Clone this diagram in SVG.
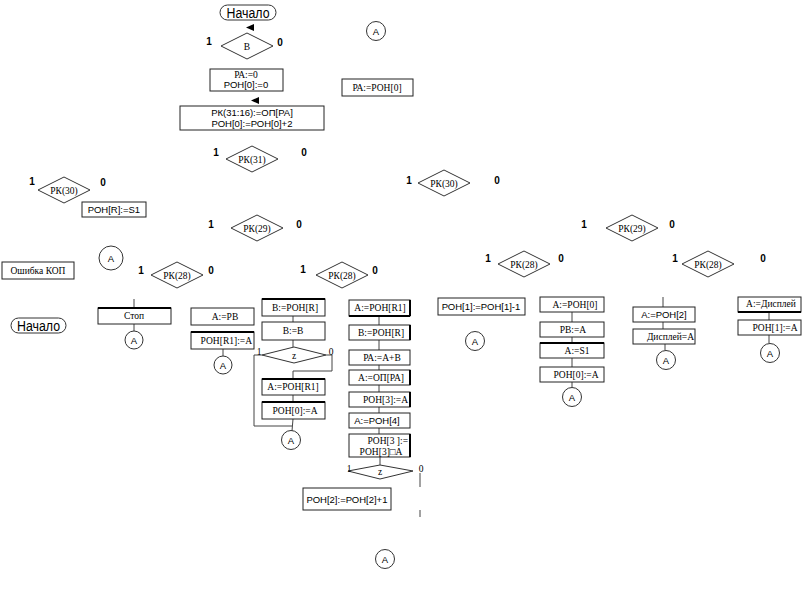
<svg xmlns="http://www.w3.org/2000/svg" width="805" height="600" viewBox="0 0 805 600">
<style>
.b{fill:#fff;stroke:#222;stroke-width:1}
.d{fill:#fff;stroke:#333;stroke-width:1}
.c{fill:#fff;stroke:#333;stroke-width:1}
.ln{fill:none;stroke:#444;stroke-width:1}
.s{font-family:"Liberation Serif",serif;font-size:9.5px;fill:#000;text-anchor:middle}
.e{text-anchor:end}
.a{font-family:"Liberation Sans",sans-serif;font-size:9.5px;fill:#000;text-anchor:middle}
.n{font-family:"Liberation Sans",sans-serif;font-size:10px;font-weight:bold;fill:#000;text-anchor:middle}
.t{font-family:"Liberation Sans",sans-serif;font-size:14px;fill:#000;text-anchor:middle}
.tri{fill:#000}
.k{stroke:#000;stroke-width:2}
</style>
<rect width="805" height="600" fill="#fff"/>
<g id="connectors">
<line class="ln" x1="134" y1="299" x2="134" y2="308"/>
<line class="ln" x1="134" y1="324" x2="134" y2="331"/>
<line class="ln" x1="223" y1="349" x2="223" y2="356"/>
<line class="ln" x1="293" y1="316" x2="293" y2="322"/>
<line class="ln" x1="293" y1="340" x2="293" y2="347"/>
<polyline class="ln" points="262,355 254,355 254,426 292,426"/>
<polyline class="ln" points="326,355 332,355 332,371 293,371 293,378"/>
<line class="ln" x1="293" y1="395" x2="293" y2="402"/>
<line class="ln" x1="293" y1="419" x2="292" y2="431"/>
<line class="ln" x1="379" y1="316" x2="379" y2="325"/>
<line class="ln" x1="379" y1="340" x2="379" y2="350"/>
<line class="ln" x1="379" y1="365" x2="379" y2="370"/>
<line class="ln" x1="379" y1="385" x2="379" y2="392"/>
<line class="ln" x1="379" y1="407" x2="379" y2="413"/>
<line class="ln" x1="379" y1="428" x2="379" y2="434"/>
<line class="ln" x1="380" y1="457" x2="380" y2="465"/>
<line class="ln" x1="420" y1="473" x2="420" y2="487"/>
<line class="ln" x1="420" y1="510" x2="420" y2="517"/>
<line class="ln" x1="572" y1="312" x2="572" y2="322"/>
<line class="ln" x1="572" y1="337" x2="572" y2="343"/>
<line class="ln" x1="572" y1="358" x2="572" y2="367"/>
<line class="ln" x1="572" y1="382" x2="572" y2="387"/>
<line class="ln" x1="663" y1="297" x2="663" y2="307"/>
<line class="ln" x1="663" y1="322" x2="663" y2="329"/>
<line class="ln" x1="665" y1="344" x2="665" y2="350"/>
<line class="ln" x1="769" y1="312" x2="769" y2="320"/>
<line class="ln" x1="769" y1="335" x2="769" y2="343"/>
<polygon class="tri" points="246,27.5 254,24 254,31"/>
<polygon class="tri" points="251,100.5 259,97 259,104"/>
</g>
<g id="start1"><rect class="c" x="220" y="5" width="56" height="15" rx="7.5"/><text class="t" x="248" y="17.5" textLength="43" lengthAdjust="spacingAndGlyphs">Начало</text></g>
<g id="condB"><polygon class="d" points="221,46 247,33 273,46 247,59"/><text class="s" x="247" y="49.5">В</text><text class="n" x="209" y="45">1</text><text class="n" x="280" y="46">0</text></g>
<g id="init"><rect class="b" x="210" y="69" width="73" height="22"/><text class="s" x="246" y="78">РА:=0</text><text class="a" x="246" y="88">РОН[0]:=0</text></g>
<g id="paron0"><rect class="b" x="342" y="79" width="71" height="17"/><text class="s" x="377" y="91">РА:=РОН[0]</text></g>
<g id="fetch"><rect class="b" x="180" y="106" width="144" height="24"/><text class="a" x="252" y="116">РК(31:16):=ОП[РА]</text><text class="a" x="252" y="127">РОН[0]:=РОН[0]+2</text></g>
<g id="connA0"><circle class="c" cx="376" cy="31" r="9.5"/><text class="a" x="376" y="34.5">А</text></g>
<g id="rk31"><polygon class="d" points="226,159 252,146 278,159 252,172"/><text class="s" x="252" y="162.5">РК(31)</text><text class="n" x="216" y="156">1</text><text class="n" x="304" y="156">0</text></g>
<g id="rk30a"><polygon class="d" points="38,190 64,177 90,190 64,203"/><text class="s" x="64" y="193.5">РК(30)</text><text class="n" x="32" y="185">1</text><text class="n" x="103" y="186">0</text></g>
<g id="ronrs1"><rect class="b" x="82" y="202" width="64" height="15"/><text class="a" x="114" y="213">РОН[R]:=S1</text></g>
<g id="rk29a"><polygon class="d" points="231,228 257,215 283,228 257,241"/><text class="s" x="257" y="231.5">РК(29)</text><text class="n" x="211" y="228">1</text><text class="n" x="299" y="228">0</text></g>
<g id="connA1"><circle class="c" cx="111" cy="258" r="12"/><text class="a" x="111" y="261.5">А</text></g>
<g id="error"><rect class="b" x="2" y="262" width="72" height="17"/><text class="s" x="38" y="274">Ошибка КОП</text></g>
<g id="rk28a"><polygon class="d" points="151,275 177,262 203,275 177,288"/><text class="s" x="177" y="278.5">РК(28)</text><text class="n" x="141" y="274">1</text><text class="n" x="211" y="274">0</text></g>
<g id="rk28b"><polygon class="d" points="316,275 342,262 368,275 342,288"/><text class="s" x="342" y="278.5">РК(28)</text><text class="n" x="303" y="273">1</text><text class="n" x="375" y="274">0</text></g>
<g id="rk30b"><polygon class="d" points="418,183 444,170 470,183 444,196"/><text class="s" x="444" y="186.5">РК(30)</text><text class="n" x="409" y="184">1</text><text class="n" x="497" y="184">0</text></g>
<g id="rk29b"><polygon class="d" points="606,228 632,215 658,228 632,241"/><text class="s" x="632" y="231.5">РК(29)</text><text class="n" x="584" y="228">1</text><text class="n" x="672" y="228">0</text></g>
<g id="rk28c"><polygon class="d" points="498,264 524,251 550,264 524,277"/><text class="s" x="524" y="267.5">РК(28)</text><text class="n" x="488" y="262">1</text><text class="n" x="561" y="262">0</text></g>
<g id="rk28d"><polygon class="d" points="682,264 708,251 734,264 708,277"/><text class="s" x="708" y="267.5">РК(28)</text><text class="n" x="675" y="262">1</text><text class="n" x="763" y="262">0</text></g>
<g id="start2"><rect class="c" x="11" y="318" width="55" height="15" rx="7.5"/><text class="t" x="38.5" y="330.5" textLength="43" lengthAdjust="spacingAndGlyphs">Начало</text></g>
<g id="stop"><rect class="b" x="98" y="308" width="73" height="16"/><line class="k" x1="98" y1="308" x2="171" y2="308"/><text class="s" x="134" y="319">Стоп</text></g>
<g id="connA2"><circle class="c" cx="134" cy="340" r="9"/><text class="a" x="134" y="343.5">А</text></g>
<g id="apb"><rect class="b" x="191" y="308" width="63" height="17"/><text class="s" x="225" y="319.5">А:=РВ</text></g>
<g id="ronr1a"><rect class="b" x="191" y="332" width="63" height="17"/><line class="k" x1="191" y1="332" x2="254" y2="332"/><text class="s e" x="252" y="343.5">РОН[R1]:=А</text></g>
<g id="connA3"><circle class="c" cx="223" cy="365" r="9"/><text class="a" x="223" y="368.5">А</text></g>
<g id="bronr"><rect class="b" x="262" y="299" width="63" height="17"/><line class="k" x1="262" y1="299" x2="325" y2="299"/><text class="s" x="295" y="310.5">В:=РОН[R]</text></g>
<g id="bb"><rect class="b" x="262" y="322" width="63" height="18"/><text class="s" x="293" y="334">В:=В</text></g>
<g id="z1"><polygon class="d" points="262,355 294,347 326,355 294,363"/><text class="s" x="294" y="359">z</text><text class="s" x="259" y="355">1</text><text class="s" x="331" y="355">0</text></g>
<g id="aronr1"><rect class="b" x="262" y="379" width="63" height="16"/><line class="k" x1="262" y1="379" x2="325" y2="379"/><text class="s" x="293" y="390">А:=РОН[R1]</text></g>
<g id="ron0a"><rect class="b" x="262" y="402" width="63" height="17"/><line class="k" x1="262" y1="402" x2="325" y2="402"/><text class="s" x="295" y="413.5">РОН[0]:=А</text></g>
<g id="connA4"><circle class="c" cx="291" cy="440" r="9.5"/><text class="a" x="291" y="443.5">А</text></g>
<g id="c4a"><rect class="b" x="349" y="300" width="61" height="16"/><line class="k" x1="349" y1="316" x2="410" y2="316"/><line class="k" x1="410" y1="300" x2="410" y2="316"/><text class="s" x="380" y="311">А:=РОН[R1]</text></g>
<g id="c4b"><rect class="b" x="349" y="325" width="61" height="15"/><line class="k" x1="410" y1="325" x2="410" y2="340"/><text class="s" x="381" y="335.5">В:=РОН[R]</text></g>
<g id="c4c"><rect class="b" x="349" y="350" width="61" height="15"/><text class="s" x="382" y="360.5">РА:=А+В</text></g>
<g id="c4d"><rect class="b" x="349" y="370" width="61" height="15"/><line class="k" x1="410" y1="370" x2="410" y2="385"/><text class="s" x="381" y="380.5">А:=ОП[РА]</text></g>
<g id="c4e"><rect class="b" x="349" y="392" width="61" height="15"/><line class="k" x1="410" y1="392" x2="410" y2="407"/><text class="s e" x="408" y="402.5">РОН[3]:=А</text></g>
<g id="c4f"><rect class="b" x="349" y="413" width="61" height="15"/><text class="a" x="377" y="424">А:=РОН[4]</text></g>
<g id="c4g"><rect class="b" x="349" y="434" width="61" height="23"/><line class="k" x1="410" y1="434" x2="410" y2="457"/><text class="s e" x="408" y="444">РОН[3 ]:=</text><text class="s" x="381" y="454.5">РОН[3]□А</text></g>
<g id="z2"><polygon class="d" points="348,471 380,465 413,471 380,479"/><text class="s" x="380" y="475">z</text><text class="s" x="349" y="472">1</text><text class="s" x="421" y="472">0</text></g>
<g id="ron2inc"><rect class="b" x="303" y="488" width="88" height="22"/><text class="a" x="347" y="502.5">РОН[2]:=РОН[2]+1</text></g>
<g id="connA5"><circle class="c" cx="385" cy="559" r="9.5"/><text class="a" x="385" y="562.5">А</text></g>
<g id="ron1dec"><rect class="b" x="438" y="298" width="87" height="17"/><text class="a" x="481" y="309.5">РОН[1]:=РОН[1]-1</text></g>
<g id="connA6"><circle class="c" cx="475" cy="341" r="9.5"/><text class="a" x="475" y="344.5">А</text></g>
<g id="r1"><rect class="b" x="540" y="297" width="64" height="15"/><text class="s" x="575" y="307.5">А:=РОН[0]</text></g>
<g id="r2"><rect class="b" x="540" y="322" width="64" height="15"/><text class="s" x="573" y="332.5">РВ:=А</text></g>
<g id="r3"><rect class="b" x="540" y="343" width="64" height="15"/><line class="k" x1="540" y1="343" x2="604" y2="343"/><text class="s" x="577" y="353.5">А:=S1</text></g>
<g id="r4"><rect class="b" x="540" y="367" width="64" height="15"/><text class="s" x="576" y="377.5">РОН[0]:=А</text></g>
<g id="connA7"><circle class="c" cx="572" cy="397" r="9.5"/><text class="a" x="572" y="400.5">А</text></g>
<g id="d1"><rect class="b" x="633" y="307" width="62" height="15"/><text class="a" x="664" y="318">А:=РОН[2]</text></g>
<g id="d2"><rect class="b" x="633" y="329" width="62" height="15"/><text class="s e" x="694" y="339.5">Дисплей=А</text></g>
<g id="connA8"><circle class="c" cx="666" cy="360" r="9.5"/><text class="a" x="666" y="363.5">А</text></g>
<g id="e1"><rect class="b" x="738" y="297" width="63" height="15"/><line class="k" x1="738" y1="312" x2="801" y2="312"/><text class="s" x="771" y="306.5">А:=Дисплей</text></g>
<g id="e2"><rect class="b" x="738" y="320" width="63" height="15"/><text class="s" x="775" y="330.5">РОН[1]:=А</text></g>
<g id="connA9"><circle class="c" cx="770" cy="353" r="9.5"/><text class="a" x="770" y="356.5">А</text></g>
</svg>
